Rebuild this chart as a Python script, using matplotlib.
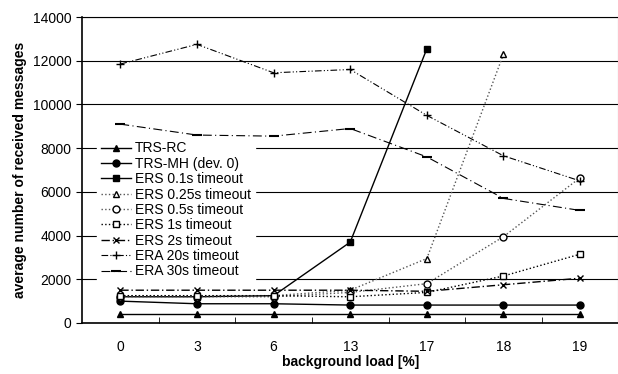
import matplotlib
matplotlib.use("Agg")
import matplotlib.pyplot as plt

plt.rcParams['font.family'] = ['Liberation Sans', 'DejaVu Sans']

loads = ['0', '3', '6', '13', '17', '18', '19']

trs_rc = [430, 430, 430, 430, 430, 430, 430]
trs_mh = [1000, 880, 880, 820, 820, 820, 820]
ers_01 = [1200, 1200, 1250, 3700, 12550]
ers_025 = [1250, 1250, 1250, 1500, 2950, 12300]
ers_05 = [1200, 1200, 1200, 1400, 1800, 3950, 6650]
ers_1 = [1250, 1250, 1250, 1200, 1400, 2150, 3150]
ers_2 = [1500, 1500, 1500, 1500, 1450, 1750, 2050]
era_20 = [11850, 12750, 11450, 11600, 9500, 7650, 6500]
era_30 = [9100, 8600, 8550, 8900, 7600, 5700, 5150]

fig = plt.figure(figsize=(6.18, 3.74), dpi=100)
ax = fig.add_axes([0.1327, 0.1364, 0.868, 0.818])

x = list(range(len(loads)))
ax.plot(x, trs_rc, '-', color='black', lw=1, marker='^', ms=5, label='TRS-RC')
ax.plot(x, trs_mh, '-', color='black', lw=1, marker='o', ms=5, label='TRS-MH (dev. 0)')
ax.plot(x[:len(ers_01)], ers_01, '-', color='black', lw=1, marker='s', ms=5, label='ERS 0.1s timeout')
ax.plot(x[:len(ers_025)], ers_025, ':', color='#555555', lw=1, marker='^', ms=5, mfc='white', mec='black', label='ERS 0.25s timeout')
ax.plot(x, ers_05, ':', color='#555555', lw=1, marker='o', ms=5, mfc='white', mec='black', label='ERS 0.5s timeout')
ax.plot(x, ers_1, ':', color='black', lw=1, marker='s', ms=5, mfc='white', mec='black', label='ERS 1s timeout')
ax.plot(x, ers_2, linestyle=(0, (6, 2, 1, 2)), color='black', lw=1, marker='x', ms=5, label='ERS 2s timeout')
ax.plot(x, era_20, linestyle=(0, (6, 2, 1, 2, 1, 2)), color='black', lw=0.8, marker='+', ms=6, label='ERA 20s timeout')
ax.plot(x, era_30, linestyle=(0, (8, 3, 1, 3)), color='black', lw=0.8, marker='_', ms=7, mew=1.5, label='ERA 30s timeout')

ax.set_xlim(-0.5, len(loads) - 0.5)
ax.set_ylim(0, 14000)
ax.set_yticks(range(0, 14001, 2000))
ax.set_xticks(x)
ax.set_xticklabels(loads)
ax.set_xticks([i + 0.5 for i in x[:-1]], minor=True)
ax.tick_params(axis='x', which='major', length=0, pad=12, labelsize=10)
ax.tick_params(axis='x', which='minor', length=4, direction='in')
ax.tick_params(axis='y', length=4, labelsize=10)
ax.yaxis.grid(True, color='black', lw=0.8)
ax.set_axisbelow(True)
ax.spines['right'].set_color('#999999')
for s in ['left', 'bottom']:
    ax.spines[s].set_linewidth(1.2)

ax.set_xlabel('background load [%]', fontweight='bold', fontsize=10, labelpad=1)
ax.set_ylabel('average number of received messages', fontweight='bold', fontsize=10, labelpad=4)

leg = ax.legend(loc='upper left', bbox_to_anchor=(0.028, 0.605), frameon=True, framealpha=1,
                edgecolor='white', fancybox=False, fontsize=10, handlelength=2.2,
                labelspacing=0.1, borderpad=0.25, handletextpad=0.3, borderaxespad=0)

fig.savefig('out.png', dpi=100)
